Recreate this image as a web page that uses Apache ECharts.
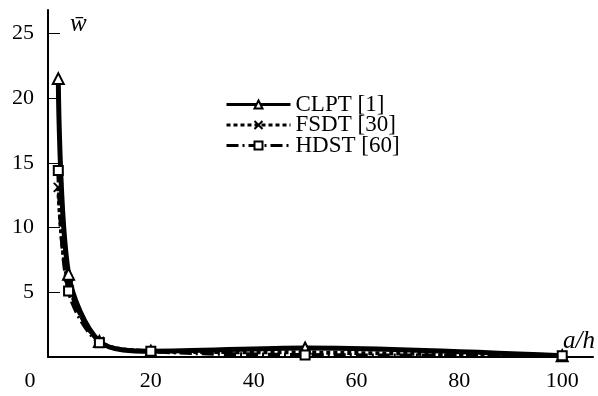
<!DOCTYPE html>
<html>
<head>
<meta charset="utf-8">
<script src="https://cdn.jsdelivr.net/npm/echarts@6/dist/echarts.min.js"></script>
<style>
  html, body { margin: 0; padding: 0; background: #fff; }
  #chart { width: 598px; height: 396px; }
</style>
</head>
<body>
<div id="chart"></div>
<script>
// a/h ratios
const ratios = [2, 4, 10, 20, 50, 100]
// non-dimensional deflection w̄ for each theory
const clpt = [21.5, 6.4, 1.2, 0.45, 0.7, 0.1]
const fsdt = [13.1, 5.6, 1.2, 0.45, 0.35, 0.1]
const hdst = [14.4, 5.1, 1.1, 0.45, 0.15, 0.1]
const seriesNames = ['CLPT [1]', 'FSDT [30]', 'HDST [60]']
const yTicks = [5, 10, 15, 20, 25]
const xTicks = [0, 20, 40, 60, 80, 100]

const serif = '"Liberation Serif", "DejaVu Serif", serif'
const pts = vals => ratios.map((r, i) => [r, vals[i]])

const chart = echarts.init(document.getElementById('chart'))

const lineSeries = (name, vals, symbol, dash, size, width) => ({
  name,
  type: 'line',
  data: pts(vals),
  smooth: 0.3,
  symbol,
  symbolSize: size,
  showAllSymbol: true,
  lineStyle: { color: '#000', width, type: dash },
  itemStyle: { color: '#fff', borderColor: '#000', borderWidth: 2 },
  emphasis: { disabled: true },
})

chart.setOption({
  animation: false,
  backgroundColor: '#fff',
  grid: { left: 48, right: 0, top: 10, bottom: 39 },
  legend: {
    orient: 'vertical',
    left: 220,
    top: 88,
    itemWidth: 64,
    itemHeight: 10,
    itemGap: -2.5,
    data: seriesNames,
    lineStyle: { width: 3 },
    textStyle: { fontFamily: serif, fontSize: 23, color: '#000' },
  },
  xAxis: {
    type: 'value',
    min: 0,
    max: 106,
    name: 'a/h',
    nameLocation: 'end',
    nameGap: -30,
    nameTextStyle: {
      fontFamily: serif, fontSize: 25, fontStyle: 'italic', color: '#000',
      align: 'left', verticalAlign: 'bottom', padding: [0, 0, 3, 0],
    },
    splitLine: { show: false },
    axisLine: { lineStyle: { color: '#000', width: 2 } },
    axisTick: { inside: true, length: 6, customValues: xTicks.slice(1), lineStyle: { color: '#000', width: 1 } },
    axisLabel: {
      customValues: xTicks,
      margin: 13,
      fontFamily: serif, fontSize: 22, color: '#000',
      formatter: v => (v === 0 ? '{z|0}' : String(v)),
      rich: { z: { fontFamily: serif, fontSize: 22, color: '#000', padding: [0, 36, 0, 0] } },
    },
  },
  yAxis: {
    type: 'value',
    min: 0,
    max: 26.8,
    name: 'w\u0304',
    nameLocation: 'end',
    nameGap: -2,
    nameTextStyle: {
      fontFamily: serif, fontSize: 25, fontStyle: 'italic', color: '#000',
      align: 'left', verticalAlign: 'top', padding: [0, 0, 0, 22],
    },
    splitLine: { show: false },
    axisLine: { lineStyle: { color: '#000', width: 2 } },
    axisTick: { inside: true, length: 12, customValues: yTicks, lineStyle: { color: '#000', width: 1 } },
    axisLabel: {
      customValues: yTicks,
      margin: 14,
      fontFamily: serif, fontSize: 22, color: '#000',
    },
  },
  series: [
    lineSeries(seriesNames[0], clpt, 'triangle', 'solid', 11, 5),
    lineSeries(seriesNames[1], fsdt, 'path://M0,0L10,10M10,0L0,10', [4, 3], 9, 4),
    lineSeries(seriesNames[2], hdst, 'rect', [12, 4, 2, 4], 9, 4),
  ],
})
</script>
</body>
</html>
